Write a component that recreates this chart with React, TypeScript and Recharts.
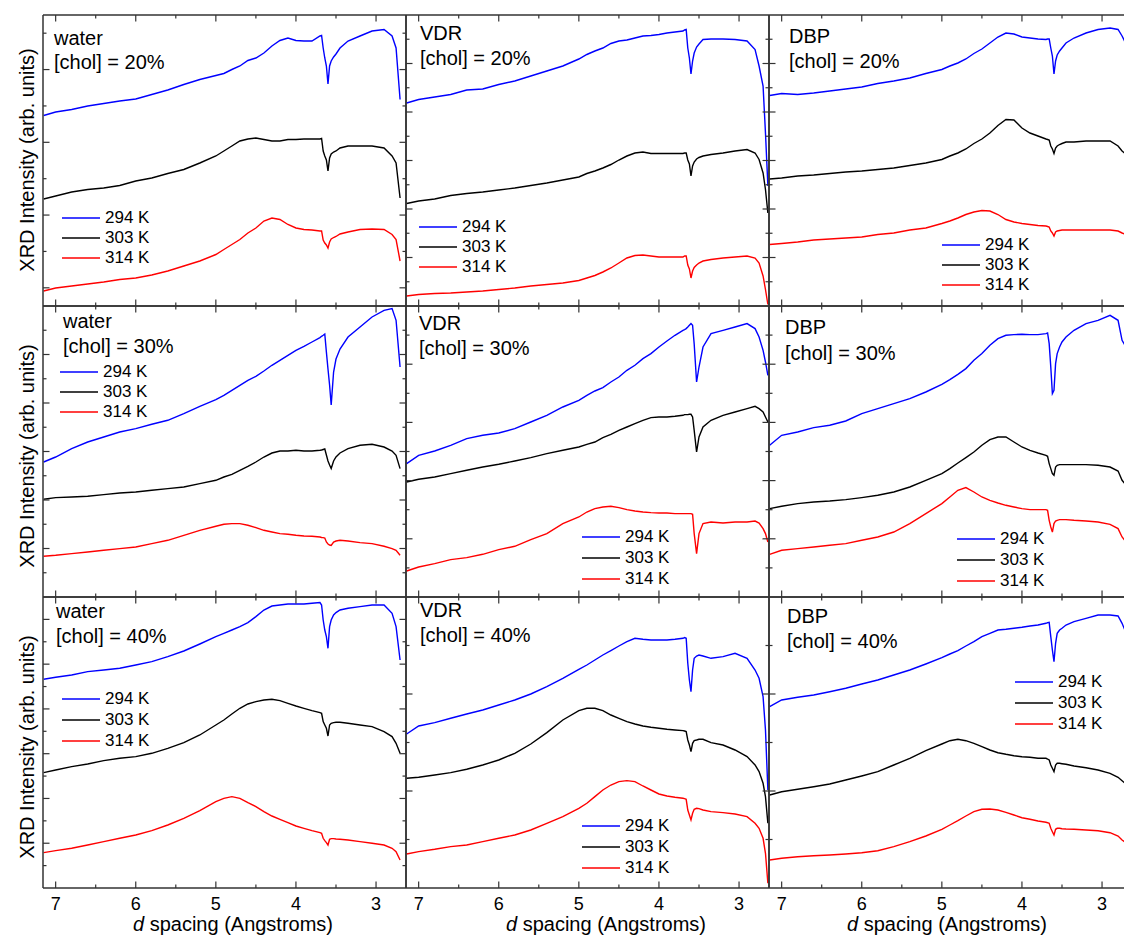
import React from 'react';
import { LineChart, Line, XAxis, YAxis, Legend } from 'recharts';

const FONT = "'Liberation Sans', Arial, Helvetica, sans-serif";

// d spacing grid (Angstroms)
const D_SPACING = [7.15, 7.0, 6.8, 6.6, 6.4, 6.2, 6.0, 5.8, 5.6, 5.4, 5.2, 5.0, 4.9, 4.8, 4.7, 4.6, 4.5, 4.4, 4.3, 4.2, 4.1, 4.0, 3.9, 3.8, 3.7, 3.68, 3.66, 3.64, 3.62, 3.6, 3.58, 3.56, 3.53, 3.5, 3.45, 3.35, 3.2, 3.05, 2.9, 2.8, 2.75, 2.7, 2.67, 2.64];

const TEMPERATURES = ['294 K', '303 K', '314 K'];
const SERIES_COLORS = ['#0000ff', '#000000', '#ff0000'];
const SOLVENTS = ['water', 'VDR', 'DBP'];
const CHOL = ['20%', '30%', '40%'];
const X_TICKS = [7, 6.5, 6, 5.5, 5, 4.5, 4, 3.5, 3];
const X_DOMAIN: [number, number] = [2.626, 7.158];
const Y_TITLE = 'XRD Intensity (arb. units)';
const X_TITLE_REST = ' spacing (Angstroms)';

// ---- [chol] = 20% ----
const WATER20_294 = [190.5, 194, 196.5, 200, 202.5, 205, 207, 211.5, 216, 221.5, 226.5, 230.5, 232.5, 236.5, 240, 245.5, 248, 253, 260, 265.5, 268, 265.5, 265, 265, 270, 270.5, 258, 248, 240, 222, 240, 245, 249, 252, 258, 265, 270, 275, 276.5, 270, 258, 206.5, null, null];
const WATER20_303 = [107, 110, 114, 116.5, 118, 120.5, 125, 128, 132.5, 136.5, 143, 150, 155, 160, 165, 167, 168, 166.5, 165, 165, 166.5, 166.5, 167, 167, 167, 167.5, 155, 150, 146, 135, 148, 152, 154, 155, 158, 160, 160, 160, 158, 150, 143, 108, null, null];
const WATER20_314 = [15, 18, 20, 22, 24, 26.5, 28, 31, 35, 40, 45, 51.5, 56.5, 61.5, 66.5, 73, 78, 85, 88, 86.5, 81.5, 78, 76.5, 76, 75, 75, 66, 63, 61, 58, 64, 67, 68.5, 69.5, 72, 74, 76.5, 77, 76.5, 71.5, 66.5, 45, null, null];
const VDR20_294 = [203, 206.5, 209, 211.5, 216, 217, 221.5, 225, 230, 235, 240, 247, 251.5, 255, 258, 262.5, 265, 266, 268, 270, 270.5, 271.5, 273, 274, 275, 276, 276.5, 258, 248, 232, 245, 253, 259, 262, 266.5, 267, 267, 266.5, 265, 256.5, 240, 220, 173, 120];
const VDR20_303 = [102.5, 105, 107, 110.5, 112.5, 114, 116, 118, 120.5, 123, 126, 129, 132.5, 135, 138, 141.5, 146, 150, 153, 154, 152.5, 152.5, 152.5, 152.5, 152.5, 153, 153, 146, 142, 130, 140, 144, 147, 148.5, 150, 151.5, 153, 155, 156.5, 153, 146.5, 133, 116.5, 93];
const VDR20_314 = [10, 11.5, 12.5, 13, 14, 15, 16.5, 18, 20, 21.5, 23, 25.5, 28, 30.5, 34, 38, 43, 48, 50.5, 51, 50, 49, 49, 49, 49, 50, 50, 41, 37, 28, 35, 38.5, 41, 43, 45, 46.5, 48, 49, 50, 48, 43, 30, 16.5, 1.5];
const DBP20_294 = [210.5, 212.5, 211.5, 213, 215, 217, 219, 222.5, 225, 228, 232.5, 236.5, 240, 243, 247, 252.5, 257, 263, 269, 273, 272, 269, 268, 267, 266.5, 267, 267, 258, 250, 232, 245, 251, 255, 258, 263, 268, 273, 276.5, 278, 276.5, 270, 262, 255, 245];
const DBP20_303 = [127, 128, 130, 131, 132.5, 134, 135, 136.5, 138, 140.5, 143, 146.5, 150, 153, 157, 162.5, 167, 173, 180.5, 186.5, 186, 178, 173, 170, 167, 166.5, 166, 160, 157, 152.5, 158, 160, 161.5, 162.5, 164, 164, 165, 165, 165, 160, 155, 151.5, 148, 140];
const DBP20_314 = [61.5, 62.5, 64, 66, 67, 68, 69, 71.5, 73, 76, 78, 82.5, 85, 88, 91.5, 94, 95.5, 95, 91.5, 86.5, 84, 82.5, 81.5, 80.5, 80, 79.5, 79, 75, 73, 70, 74, 75, 75.5, 76, 76, 76, 76, 76, 76, 75, 73, 71.5, 69, 66];

// ---- [chol] = 30% ----
const WATER30_294 = [135, 140, 148.4, 155, 160, 165, 168.4, 172.7, 176.7, 183.4, 190.7, 197.4, 201.7, 206.7, 211.7, 216.7, 220.7, 226, 231.7, 236.7, 241.7, 246.7, 250.7, 255, 259.4, 260.7, 261.7, 263, 245, 228, 212, 192, 225, 238, 248, 260, 270, 280, 286.7, 288.4, 276.7, 230, null, null];
const WATER30_303 = [97.7, 99.4, 100, 100.7, 102.4, 104, 105, 106.7, 108.4, 110, 113.4, 116.7, 120, 122.7, 126.7, 130.7, 135, 140, 144, 146, 146, 146.7, 146, 146, 146.7, 147, 147.5, 148, 142, 136, 132, 128.5, 136, 140, 144, 148.4, 151.7, 152.7, 150, 146, 141.7, 128.4, null, null];
const WATER30_314 = [40.7, 41.7, 43.4, 45, 46.7, 48.4, 50, 53.4, 56.7, 61.7, 66.7, 70.7, 72.7, 73.4, 73.4, 71.7, 69.4, 66.7, 65, 63.4, 62.7, 61.7, 61, 60.7, 60, 59.5, 59.4, 59, 55, 53, 52, 51.5, 55, 56, 56.7, 56, 54.4, 53.4, 50.7, 48.4, 46.7, 41.7, null, null];
const VDR30_294 = [133.4, 141.7, 146, 151.7, 158.4, 161.7, 164, 168.4, 175, 181.7, 190, 196.7, 201.7, 206, 209.4, 215, 220, 226.7, 231.7, 238.4, 243.4, 250, 256, 261.7, 266.7, 267.4, 268.4, 270, 271.7, 273.4, 271.7, 253, 215, 230, 250, 263.4, 266.7, 270, 273.4, 268.4, 260, 246.7, 235, 221.7];
const VDR30_303 = [115, 117.7, 120, 123.4, 126.7, 130, 132.7, 136, 139.4, 143.4, 146.7, 150, 152.7, 155, 159.4, 162.7, 166.7, 170, 173.4, 176.7, 179.4, 180, 180, 180.7, 181.7, 182.4, 182.4, 182.4, 182.7, 182.7, 180, 166.7, 145, 160, 170, 176.7, 181.7, 185, 188.4, 190.7, 188.4, 185, 180, 175];
const VDR30_314 = [26, 30, 33.4, 37.4, 39.4, 42.7, 47.4, 50.7, 57.4, 63.4, 73.4, 80, 85, 88.4, 90, 90.7, 89.4, 87.4, 86, 85, 84.4, 84, 84, 83.4, 83.4, 83.4, 83.4, 83.4, 83.4, 83.4, 82.7, 63.4, 43.4, 63.4, 73.4, 75, 74, 75, 75, 76, 74, 68.4, 63.4, 55];
const DBP30_294 = [151.7, 161.7, 165, 169.4, 171.7, 176, 183.4, 188.4, 193.4, 198.4, 205, 212.7, 217.4, 222.7, 228.4, 236.7, 243.4, 251.7, 258.4, 261.7, 262.4, 262.7, 262.4, 262.4, 263.4, 264, 253.4, 230, 203.4, 206.7, 233.4, 243.4, 250, 255, 260, 266.7, 273.4, 276.7, 281.7, 276.7, 256.7, 250, 245, 240];
const DBP30_303 = [88.4, 90.7, 93.4, 95, 96, 97.4, 99.4, 101.7, 105, 110, 116.7, 123.4, 128.4, 134, 139.4, 145, 151.7, 157.4, 160, 160, 155, 150, 146.7, 144, 141.7, 140.7, 133.4, 128.4, 123.4, 121.7, 130, 131.7, 132.4, 132.4, 132.4, 132.4, 132.4, 131.7, 130, 126, 116.7, 112, 108, 104];
const DBP30_314 = [42.7, 46.7, 48.4, 50, 51.7, 53.4, 56.7, 60, 65, 73.4, 83.4, 93.4, 100, 106.7, 109.4, 105, 100, 96.7, 94, 91.7, 90, 88.4, 87.4, 87.4, 87.4, 86.7, 76.7, 70, 65, 73.4, 76, 76.7, 77.4, 77.4, 77.4, 76.7, 76, 75, 72.7, 68.4, 60, 55, 52, 49];

// ---- [chol] = 40% ----
const WATER40_294 = [208.7, 210.7, 213, 216.4, 218, 219.7, 223, 226.4, 231.4, 237, 244, 251.4, 254.7, 258, 261.4, 265.4, 271.4, 278, 282, 283, 284, 284, 284, 284.7, 285.4, 283, 268, 258, 251.4, 239.7, 261.4, 268, 273, 275.4, 278, 279.7, 281.4, 283, 283, 274.7, 261.4, 228, null, null];
const WATER40_303 = [115.4, 118, 121.4, 124, 127.4, 129.7, 131.4, 134.7, 139.7, 145.4, 153, 163, 168, 174, 179.7, 184, 186.4, 188, 188.7, 187.4, 184.7, 182, 179.7, 177.4, 175.4, 174.7, 166.4, 163, 159.7, 152, 163, 164.7, 165.4, 165.7, 165.7, 164.7, 163, 161.4, 156.4, 151.4, 144.7, 134.7, null, null];
const WATER40_314 = [35.4, 37.4, 39.7, 43, 46.4, 49.7, 53, 57.4, 63, 69.7, 77.4, 86.4, 89.7, 91.4, 89.7, 85.4, 81.4, 76.4, 72, 68.7, 65.4, 62, 59.7, 57.4, 55.4, 54.7, 49.7, 47.4, 45.4, 43, 48.7, 49.4, 49.4, 49, 48.7, 48, 46.4, 44.7, 43, 39.7, 36.4, 28, null, null];
const VDR40_294 = [154, 162, 165.4, 169.7, 174, 178, 183, 188, 194, 201.4, 209.7, 218.7, 223, 228, 233, 237.4, 242, 246.4, 249.7, 248.7, 248, 248, 248, 248.7, 249.7, 250.4, 249.7, 224.7, 208, 196.3, 218, 229.7, 232, 233, 232, 229.7, 231.4, 234.7, 229.7, 218, 209.7, 191.4, 158, 98];
const VDR40_303 = [109.7, 110.7, 113, 115.4, 118.7, 123, 128, 134.7, 144, 155.4, 168, 177.4, 179.7, 179.7, 177.4, 173, 169.7, 166.4, 164, 162, 160.7, 159.7, 158.7, 158, 157.4, 157, 156.4, 148, 143, 136.3, 144.7, 147.4, 148, 148.7, 148.7, 145.4, 143, 138, 131.4, 123, 116.4, 104.7, 91.3, 64.7];
const VDR40_314 = [34, 36.4, 38.7, 41.4, 43, 46.4, 49.7, 53, 58, 64.7, 71.4, 79.7, 84.7, 91.4, 98, 103, 106.4, 107.4, 106.4, 102, 98, 94, 92, 90.7, 89.7, 89.4, 88.7, 78, 73, 68, 74.7, 78.7, 79.7, 79.4, 78, 76.4, 75.4, 74, 71.4, 64.7, 59.7, 49.7, 34.7, 4.7];
const DBP40_294 = [181.3, 188, 190.7, 193, 196.3, 199.7, 204, 208, 213, 218, 224, 230.3, 234, 237.3, 242, 246.3, 251.3, 254.7, 258, 258.7, 259.7, 260.7, 262, 263, 264.7, 265.3, 265.7, 251.3, 238, 226.3, 244.7, 254.7, 258, 259.7, 263, 266.3, 269.7, 273, 273, 272, 264.7, 255, 250, 245];
const DBP40_303 = [93, 96.3, 98.7, 101.3, 104, 108, 112, 116.3, 123, 129.7, 137.3, 144, 147.3, 148.7, 147.3, 144.7, 141.3, 138, 135.3, 133.7, 132.3, 131.3, 130.7, 129.7, 129.7, 129, 128, 123, 119.7, 116.3, 123, 124.7, 124.7, 124.3, 123.7, 122, 120.3, 118, 114.7, 110.7, 107.3, 104, 101, 98];
const DBP40_314 = [28, 29.7, 31.3, 32.3, 33, 34, 35.3, 37.3, 41.3, 46.3, 52, 58.7, 63, 67.3, 72, 76.3, 78.7, 79, 78, 75.7, 73, 70.3, 68.7, 67, 65.7, 65.3, 64.7, 59.7, 56.3, 53, 58.7, 59.7, 59.7, 59.3, 59, 58.7, 58, 57.3, 55.3, 52, 48, 45, 42, 39];

const PANEL_SERIES = [
  [[WATER20_294, WATER20_303, WATER20_314], [VDR20_294, VDR20_303, VDR20_314], [DBP20_294, DBP20_303, DBP20_314]],
  [[WATER30_294, WATER30_303, WATER30_314], [VDR30_294, VDR30_303, VDR30_314], [DBP30_294, DBP30_303, DBP30_314]],
  [[WATER40_294, WATER40_303, WATER40_314], [VDR40_294, VDR40_303, VDR40_314], [DBP40_294, DBP40_303, DBP40_314]],
];

// ---- layout (page px) ----
const COL_LEFT = [43, 406, 769];
const ROW_TOP = [15, 306, 597];
const PW = 363;
const PH = 291;
const PAD = 8;
const AXIS_COLOR = '#333';
const Y_GRID = [
  [{ n: 8, off: 0.5 }, { n: 12, off: 0 }, { n: 12, off: 0 }],
  [{ n: 12, off: 0 }, { n: 10, off: 0 }, { n: 10, off: 0 }],
  [{ n: 13, off: 0 }, { n: 6, off: 0 }, { n: 6, off: 0 }],
];
const LEGEND_POS = [
  [[62, 218, 20], [419, 227, 20], [942, 245, 20]],
  [[60, 372, 20], [582, 536, 21], [957, 538, 21]],
  [[62, 698, 21], [582, 825, 21], [1015, 681, 21]],
];
const NOTE_POS = [
  [[54, 45, 69], [420, 40, 65], [789, 43, 68]],
  [[63, 328, 353], [419, 330, 355], [785, 334, 360]],
  [[56, 618, 643], [420, 617, 642], [787, 623, 648]],
];
const Y_TITLE_CY = [160, 456, 747];
const X_TITLE_CX = [233, 606, 947];

function makeXTick(orientation: 'top' | 'bottom', showLabels: boolean) {
  return (props: any) => {
    const { x, y, payload } = props;
    const v = payload.value;
    const major = Math.abs(v - Math.round(v)) < 1e-6;
    const len = major ? 6.5 : 3.5;
    const dir = orientation === 'bottom' ? -1 : 1;
    return (
      <g>
        <line x1={x} x2={x} y1={y} y2={y + dir * len} stroke={AXIS_COLOR} strokeWidth={1.2} />
        {showLabels && major ? (
          <text x={x} y={y + 22} textAnchor="middle" fontFamily={FONT} fontSize={18} fill="#000">
            {v}
          </text>
        ) : null}
      </g>
    );
  };
}

function makeYTick(orientation: 'left' | 'right', majors: number[]) {
  return (props: any) => {
    const { x, y, payload } = props;
    const v = payload.value;
    const major = majors.some((m) => Math.abs(m - v) < 1e-6);
    const len = major ? 6.5 : 3.5;
    const dir = orientation === 'left' ? 1 : -1;
    return <line x1={x} x2={x + dir * len} y1={y} y2={y} stroke={AXIS_COLOR} strokeWidth={1.2} />;
  };
}

function makeLegend(rowH: number) {
  return (props: any) => {
    const payload = props.payload || [];
    return (
      <div style={{ fontFamily: FONT, fontSize: 17, color: '#000', lineHeight: `${rowH}px` }}>
        {payload.map((e: any) => (
          <div key={e.value} style={{ display: 'flex', alignItems: 'center', height: rowH, whiteSpace: 'nowrap' }}>
            <svg width={38} height={4} style={{ marginRight: 5, display: 'block' }}>
              <line x1={0} x2={38} y1={2} y2={2} stroke={e.color} strokeWidth={1.6} />
            </svg>
            <span>{e.value}</span>
          </div>
        ))}
      </div>
    );
  };
}

function Panel({ row, col }: { row: number; col: number }) {
  const series = PANEL_SERIES[row][col];
  const data = D_SPACING.map((d, i) => ({ d, s0: series[0][i], s1: series[1][i], s2: series[2][i] }));
  const grid = Y_GRID[row][col];
  const yTicks: number[] = [];
  const majors: number[] = [];
  for (let k = 0; k <= grid.n; k++) {
    const v = ((k + grid.off) * PH) / grid.n;
    if (v > 0.5 && v < PH - 0.5) {
      yTicks.push(v);
      if (k % 2 === 0) majors.push(v);
    }
  }
  const bottomH = row === 2 ? 34 : PAD;
  const chartLeft = COL_LEFT[col] - PAD;
  const chartTop = ROW_TOP[row] - PAD;
  const [lx, ly, rowH] = LEGEND_POS[row][col];
  const axisLine = { stroke: AXIS_COLOR, strokeWidth: 1.5 };
  return (
    <div style={{ position: 'absolute', left: chartLeft, top: chartTop }}>
      <LineChart width={PW + 2 * PAD} height={PH + PAD + bottomH} data={data} margin={{ top: 0, right: 0, bottom: 0, left: 0 }}>
        <XAxis xAxisId="b" dataKey="d" type="number" domain={X_DOMAIN} reversed allowDataOverflow orientation="bottom" height={bottomH} ticks={X_TICKS} interval={0} tickSize={0} tickMargin={0} tickLine={false} axisLine={axisLine} tick={makeXTick('bottom', row === 2)} />
        <XAxis xAxisId="t" dataKey="d" type="number" domain={X_DOMAIN} reversed allowDataOverflow orientation="top" height={PAD} ticks={X_TICKS} interval={0} tickSize={0} tickMargin={0} tickLine={false} axisLine={axisLine} tick={makeXTick('top', false)} />
        <YAxis yAxisId="l" type="number" domain={[0, PH]} allowDataOverflow orientation="left" width={PAD} ticks={yTicks} interval={0} tickSize={0} tickMargin={0} tickLine={false} axisLine={axisLine} tick={makeYTick('left', majors)} />
        <YAxis yAxisId="r" type="number" domain={[0, PH]} allowDataOverflow orientation="right" width={PAD} ticks={yTicks} interval={0} tickSize={0} tickMargin={0} tickLine={false} axisLine={axisLine} tick={makeYTick('right', majors)} />
        {[0, 1, 2].map((i) => (
          <Line
            key={i}
            xAxisId="b"
            yAxisId="l"
            dataKey={`s${i}`}
            name={TEMPERATURES[i]}
            stroke={SERIES_COLORS[i]}
            strokeWidth={1.4}
            type="linear"
            dot={false}
            activeDot={false}
            isAnimationActive={false}
          />
        ))}
        <Legend
          layout="vertical"
          align="center"
          verticalAlign="middle"
          wrapperStyle={{ left: lx - chartLeft, top: Math.round(ly - rowH / 2 - chartTop), width: 'auto', height: 'auto' }}
          content={makeLegend(rowH)}
        />
      </LineChart>
    </div>
  );
}

export default function App() {
  const rows = [0, 1, 2];
  const cols = [0, 1, 2];
  return (
    <div style={{ position: 'absolute', left: 0, top: 0, width: 1124, height: 938, overflow: 'hidden', background: '#fff', fontFamily: FONT }}>
      {rows.map((r) => cols.map((c) => <Panel key={`${r}-${c}`} row={r} col={c} />))}
      <svg width={1124} height={938} style={{ position: 'absolute', left: 0, top: 0, pointerEvents: 'none' }}>
        {rows.map((r) =>
          cols.map((c) => {
            const [nx, b1, b2] = NOTE_POS[r][c];
            return (
              <g key={`n-${r}-${c}`} fontFamily={FONT} fontSize={20} fill="#000">
                <text x={nx} y={b1}>{SOLVENTS[c]}</text>
                <text x={nx} y={b2}>{`[chol] = ${CHOL[r]}`}</text>
              </g>
            );
          })
        )}
        {rows.map((r) => (
          <text key={`yt-${r}`} transform={`translate(33.5, ${Y_TITLE_CY[r]}) rotate(-90)`} textAnchor="middle" fontFamily={FONT} fontSize={20} fill="#000">
            {Y_TITLE}
          </text>
        ))}
        {cols.map((c) => (
          <text key={`xt-${c}`} x={X_TITLE_CX[c]} y={931} textAnchor="middle" fontFamily={FONT} fontSize={20} fill="#000">
            <tspan fontStyle="italic">d</tspan>
            {X_TITLE_REST}
          </text>
        ))}
      </svg>
    </div>
  );
}
